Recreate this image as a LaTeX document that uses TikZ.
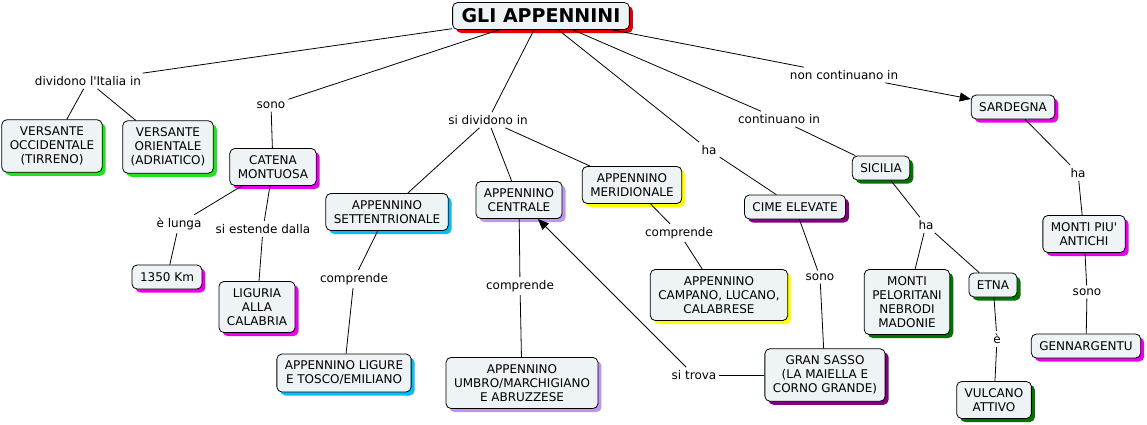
\documentclass[tikz,border=0pt]{standalone}
\usepackage{fontspec}
\setmainfont{DejaVu Sans}
\usetikzlibrary{shadows,arrows.meta}

\definecolor{boxfill}{RGB}{238,243,245}
\definecolor{cred}{RGB}{230,0,0}
\definecolor{cgreen}{RGB}{30,230,30}
\definecolor{cmag}{RGB}{235,0,235}
\definecolor{ccyan}{RGB}{0,190,250}
\definecolor{clav}{RGB}{190,150,240}
\definecolor{cyel}{RGB}{255,255,0}
\definecolor{cpurp}{RGB}{128,0,128}
\definecolor{cdkgreen}{RGB}{0,115,0}

\tikzset{
  concept/.style={draw,rectangle,rounded corners=5pt,fill=boxfill,line width=0.8pt,
    align=center,inner xsep=8pt,inner ysep=7pt,minimum height=24pt,
    font=\fontsize{12}{14}\selectfont,
    drop shadow={shadow xshift=3.5pt,shadow yshift=-3.5pt,fill=#1,opacity=1}},
  link/.style={inner sep=3pt,font=\fontsize{12}{14}\selectfont},
  conn/.style={line width=0.8pt}
}

\begin{document}
\begin{tikzpicture}[x=1pt,y=-1pt]
\useasboundingbox (0,0) rectangle (1147,424);

\node [concept=cred,font=\fontsize{19}{22}\bfseries,inner xsep=9pt,inner ysep=5pt,minimum height=27pt] (t) at(541,16){GLI APPENNINI};

\node [concept=cgreen] (vo) at(52,146){VERSANTE\\OCCIDENTALE\\(TIRRENO)};
\node [concept=cgreen] (vr) at(168,147){VERSANTE\\ORIENTALE\\(ADRIATICO)};
\node [concept=cmag] (cat) at(273,167){CATENA\\MONTUOSA};
\node [concept=ccyan] (sett) at(387,212){APPENNINO\\SETTENTRIONALE};
\node [concept=clav] (cen) at(519,200){APPENNINO\\CENTRALE};
\node [concept=cyel] (mer) at(632,185){APPENNINO\\MERIDIONALE};
\node [concept=cpurp] (cime) at(795,207){CIME ELEVATE};
\node [concept=cdkgreen] (sic) at(881,168){SICILIA};
\node [concept=cmag] (sar) at(1013,107){SARDEGNA};
\node [concept=cmag] (km) at(167,277){1350 Km};
\node [concept=cmag] (lig) at(257,307){LIGURIA\\ALLA\\CALABRIA};
\node [concept=ccyan] (tosco) at(344,373){APPENNINO LIGURE\\E TOSCO/EMILIANO};
\node [concept=clav] (umbro) at(522,383){APPENNINO\\UMBRO/MARCHIGIANO\\E ABRUZZESE};
\node [concept=cyel] (camp) at(719,295){APPENNINO\\CAMPANO, LUCANO,\\CALABRESE};
\node [concept=cpurp] (gs) at(825,375){GRAN SASSO\\(LA MAIELLA E\\CORNO GRANDE)};
\node [concept=cdkgreen] (pel) at(907,302){MONTI\\PELORITANI\\NEBRODI\\MADONIE};
\node [concept=cdkgreen] (etna) at(993,285){ETNA};
\node [concept=cdkgreen] (vulc) at(994,400){VULCANO\\ATTIVO};
\node [concept=cmag] (ant) at(1084,234){MONTI PIU\textquotesingle\\ANTICHI};
\node [concept=cmag] (genn) at(1086,346){GENNARGENTU};

\node [link] (ldiv) at(88,81){dividono l\textquotesingle Italia in};
\node [link] (lsono) at(271,105){sono};
\node [link] (lsidiv) at(488,120){si dividono in};
\node [link] (lha) at(709,150){ha};
\node [link] (lcont) at(779,119){continuano in};
\node [link] (lnon) at(844,75){non continuano in};
\node [link] (llunga) at(179,224){è lunga};
\node [link] (lest) at(263,229){si estende dalla};
\node [link] (lcomp) at(354,279){comprende};
\node [link] (lcompc) at(520,286){comprende};
\node [link] (lcompm) at(679,233){comprende};
\node [link] (lsonoc) at(820,277){sono};
\node [link] (lhas) at(926,225){ha};
\node [link] (le) at(997,339){è};
\node [link] (ltrova) at(694,375){si trova};
\node [link] (lhasar) at(1078,173){ha};
\node [link] (lsonoa) at(1087,292){sono};

\draw[conn](t) -- (ldiv);
\draw[conn](ldiv) -- (vo);
\draw[conn](ldiv) -- (vr);
\draw[conn](t) -- (lsono);
\draw[conn](lsono) -- (cat);
\draw[conn](t) -- (lsidiv);
\draw[conn](lsidiv) -- (sett);
\draw[conn](lsidiv) -- (cen);
\draw[conn](lsidiv) -- (mer);
\draw[conn](t) -- (lha);
\draw[conn](lha) -- (cime);
\draw[conn](t) -- (lcont);
\draw[conn](lcont) -- (sic);
\draw[conn](t) -- (lnon);
\draw[conn,-{Triangle[length=11pt,width=9pt]}](lnon) -- (sar);
\draw[conn](cat) -- (llunga);
\draw[conn](llunga) -- (km);
\draw[conn](cat) -- (lest);
\draw[conn](lest) -- (lig);
\draw[conn](sett) -- (lcomp);
\draw[conn](lcomp) -- (tosco);
\draw[conn](cen) -- (lcompc);
\draw[conn](lcompc) -- (umbro);
\draw[conn](mer) -- (lcompm);
\draw[conn](lcompm) -- (camp);
\draw[conn](cime) -- (lsonoc);
\draw[conn](lsonoc) -- (gs);
\draw[conn](gs) -- (ltrova);
\draw[conn,-{Triangle[length=11pt,width=9pt]}](ltrova) -- (cen);
\draw[conn](sic) -- (lhas);
\draw[conn](lhas) -- (pel);
\draw[conn](lhas) -- (etna);
\draw[conn](etna) -- (le);
\draw[conn](le) -- (vulc);
\draw[conn](sar) -- (lhasar);
\draw[conn](lhasar) -- (ant);
\draw[conn](ant) -- (lsonoa);
\draw[conn](lsonoa) -- (genn);
\end{tikzpicture}
\end{document}
